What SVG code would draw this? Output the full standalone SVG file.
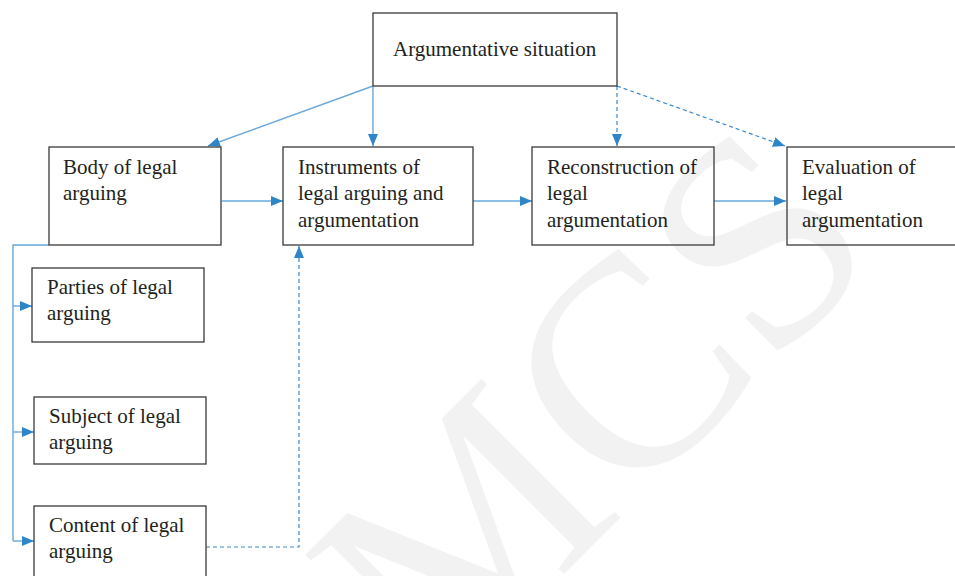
<svg xmlns="http://www.w3.org/2000/svg" width="955" height="576" viewBox="0 0 955 576">
<style>
.box{fill:none;stroke:#3a3a3a;stroke-width:1.3}
.t{font-family:"Liberation Serif","Times New Roman",serif;font-size:21px;fill:#231f20}
.c{fill:none;stroke:#6aa8dc;stroke-width:1.4}
.d{fill:none;stroke:#3a89cf;stroke-width:1.2;stroke-dasharray:4,3}
.wm{font-family:"Liberation Serif","Times New Roman",serif;font-size:300px;fill:#f2f2f2}
</style>
<defs>
<marker id="ah" markerUnits="userSpaceOnUse" markerWidth="13" markerHeight="11" refX="12" refY="5" orient="auto">
<path d="M0,0 L12,5 L0,10 z" fill="#2e86c8"/>
</marker>
</defs>
<rect width="955" height="576" fill="#ffffff"/>
<text class="wm" transform="translate(438,700) rotate(-45)">MCS</text>

<g id="connectors">
<line class="c" x1="373" y1="86" x2="208" y2="146" marker-end="url(#ah)"/>
<line class="c" x1="373" y1="86" x2="373" y2="146" marker-end="url(#ah)"/>
<line class="d" x1="617" y1="86" x2="617" y2="146" marker-end="url(#ah)"/>
<line class="d" x1="617" y1="86" x2="785" y2="146" marker-end="url(#ah)"/>
<line class="c" x1="222" y1="201" x2="283" y2="201" marker-end="url(#ah)"/>
<line class="c" x1="473" y1="201" x2="532" y2="201" marker-end="url(#ah)"/>
<line class="c" x1="714" y1="201" x2="786" y2="201" marker-end="url(#ah)"/>
<polyline class="c" points="49,245 13,245 13,541"/>
<line class="c" x1="13" y1="306" x2="32" y2="306" marker-end="url(#ah)"/>
<line class="c" x1="13" y1="432" x2="34" y2="432" marker-end="url(#ah)"/>
<line class="c" x1="13" y1="541" x2="34" y2="541" marker-end="url(#ah)"/>
<polyline class="d" points="206,547 299,547 299,246" marker-end="url(#ah)"/>
</g>

<g id="argumentative-situation">
<rect class="box" x="373" y="13" width="244" height="73"/>
<text class="t" x="393" y="56">Argumentative situation</text>
</g>
<g id="body">
<rect class="box" x="49" y="147" width="172" height="98"/>
<text class="t" x="63" y="174">Body of legal</text>
<text class="t" x="63" y="200">arguing</text>
</g>
<g id="instruments">
<rect class="box" x="283" y="147" width="190" height="98"/>
<text class="t" x="298" y="174">Instruments of</text>
<text class="t" x="298" y="200">legal arguing and</text>
<text class="t" x="298" y="227">argumentation</text>
</g>
<g id="reconstruction">
<rect class="box" x="532" y="147" width="182" height="98"/>
<text class="t" x="547" y="174">Reconstruction of</text>
<text class="t" x="547" y="200">legal</text>
<text class="t" x="547" y="227">argumentation</text>
</g>
<g id="evaluation">
<rect class="box" x="787" y="147" width="180" height="98"/>
<text class="t" x="802" y="174">Evaluation of</text>
<text class="t" x="802" y="200">legal</text>
<text class="t" x="802" y="227">argumentation</text>
</g>
<g id="parties">
<rect class="box" x="32" y="268" width="172" height="74"/>
<text class="t" x="47" y="294">Parties of legal</text>
<text class="t" x="47" y="320">arguing</text>
</g>
<g id="subject">
<rect class="box" x="34" y="397" width="172" height="67"/>
<text class="t" x="49" y="423">Subject of legal</text>
<text class="t" x="49" y="449">arguing</text>
</g>
<g id="content">
<rect class="box" x="34" y="506" width="172" height="80"/>
<text class="t" x="49" y="532">Content of legal</text>
<text class="t" x="49" y="558">arguing</text>
</g>
</svg>
